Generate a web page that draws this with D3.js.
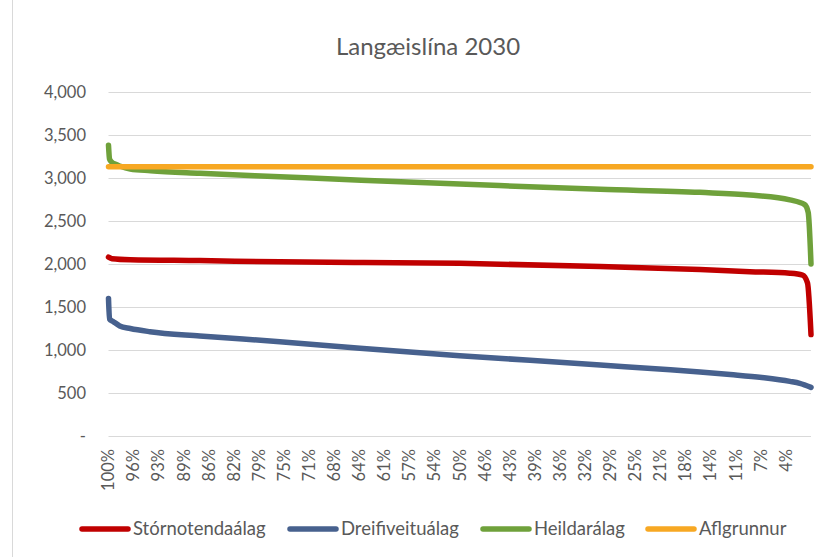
<!doctype html>
<html lang="is">
<head>
<meta charset="utf-8">
<title>Langæislína 2030</title>
<style>
  html, body { margin: 0; padding: 0; background: #fff; }
  svg { display: block; font-family: Lato, "Open Sans", sans-serif; }
  .grid line { stroke: #d9d9d9; stroke-width: 1; }
  .lbl { fill: #595959; }
</style>
</head>
<body>
<svg width="830" height="557"></svg>
<script src="https://cdn.jsdelivr.net/npm/d3@7"></script>
<script>
// share of hours (%) and load (MW)
var storPoints = [[100, 2080], [99.5, 2062], [96.9, 2050], [87, 2040], [75.6, 2025], [64, 2018],
  [50, 2008], [30, 1972], [15.8, 1935], [8.7, 1911], [3, 1892], [1.2, 1870], [0.5, 1780], [0, 1180]];
var dreifPoints = [[100, 1600], [99.85, 1360], [99.4, 1335], [98.4, 1280], [96.9, 1250], [94.1, 1213],
  [87, 1163], [75.6, 1097], [64.2, 1020], [50, 934], [40, 880], [30, 825], [20, 770], [15.8, 745],
  [11.5, 715], [7, 680], [3, 635], [1.6, 612], [0, 565]];
var heildPoints = [[100, 3380], [99.85, 3220], [99.6, 3190], [99, 3160], [98.4, 3140], [96.9, 3105],
  [94, 3085], [87, 3055], [75.6, 3015], [64, 2975], [50, 2930], [30, 2868], [15.8, 2833], [8.7, 2802],
  [3, 2745], [0.9, 2690], [0.4, 2600], [0, 2000]];
var aflPoints = [[100, 3130], [0, 3130]];

var seriesNames = ["Stórnotendaálag", "Dreifiveituálag", "Heildarálag", "Aflgrunnur"];
var seriesColors = ["#c00000", "#47618e", "#6fa13b", "#f7a823"];
var yTicks = [0, 500, 1000, 1500, 2000, 2500, 3000, 3500, 4000];
var xTickLabels = ["100%", "96%", "93%", "89%", "86%", "82%", "79%", "75%", "71%", "68%", "64%",
  "61%", "57%", "54%", "50%", "46%", "43%", "39%", "36%", "32%", "29%", "25%", "21%", "18%",
  "14%", "11%", "7%", "4%"];

var svg = d3.select("svg");
var plotLeft = 108.5, plotRight = 811, plotTop = 92, plotBottom = 436;

var x = d3.scaleLinear().domain([100, 0]).range([plotLeft, plotRight]);
var y = d3.scaleLinear().domain([0, 4000]).range([plotBottom, plotTop]);

// chart border (left edge only visible)
svg.append("line")
  .attr("x1", 12.5).attr("x2", 12.5).attr("y1", 0).attr("y2", 557)
  .attr("stroke", "#d9d9d9").attr("stroke-width", 1);

// title
svg.append("text")
  .attr("class", "lbl")
  .attr("x", 428).attr("y", 55)
  .attr("text-anchor", "middle")
  .attr("font-size", 24)
  .text("Langæislína 2030");

// gridlines
svg.append("g").attr("class", "grid")
  .selectAll("line").data(yTicks).enter().append("line")
  .attr("x1", plotLeft).attr("x2", plotRight)
  .attr("y1", function(d) { return Math.round(y(d)) + 0.5; })
  .attr("y2", function(d) { return Math.round(y(d)) + 0.5; });

// y labels
svg.append("g")
  .selectAll("text").data(yTicks).enter().append("text")
  .attr("class", "lbl")
  .attr("x", 86).attr("y", function(d) { return y(d); })
  .attr("dy", "0.35em")
  .attr("text-anchor", "end")
  .attr("font-size", 16.5)
  .text(function(d) { return d === 0 ? "-" : d3.format(",")(d); });

// x labels, rotated
svg.append("g")
  .selectAll("text").data(xTickLabels).enter().append("text")
  .attr("class", "lbl")
  .attr("font-size", 16.5)
  .attr("text-anchor", "end")
  .attr("dy", "0.35em")
  .attr("transform", function(d, i) {
    return "translate(" + x(100 - i * 100 / 28) + ",449) rotate(-90)";
  })
  .text(function(d) { return d; });

// lines
var line = d3.line()
  .x(function(d) { return x(d[0]); })
  .y(function(d) { return y(d[1]); })
  .curve(d3.curveMonotoneX);

var allSeries = [storPoints, dreifPoints, heildPoints, aflPoints];
svg.append("g")
  .selectAll("path").data(allSeries).enter().append("path")
  .attr("d", line)
  .attr("fill", "none")
  .attr("stroke", function(d, i) { return seriesColors[i]; })
  .attr("stroke-width", 5.5)
  .attr("stroke-linejoin", "round")
  .attr("stroke-linecap", "round");

// legend
var legendX = [79, 287, 480, 645];
var lg = svg.append("g").selectAll("g").data(seriesNames).enter().append("g")
  .attr("transform", function(d, i) { return "translate(" + legendX[i] + ",529)"; });
lg.append("line")
  .attr("x1", 3).attr("x2", 49).attr("y1", 0).attr("y2", 0)
  .attr("stroke", function(d, i) { return seriesColors[i]; })
  .attr("stroke-width", 5.5)
  .attr("stroke-linecap", "round");
lg.append("text")
  .attr("class", "lbl")
  .attr("x", 54).attr("y", 0).attr("dy", "0.35em")
  .attr("font-size", 18.5)
  .text(function(d) { return d; });
</script>
</body>
</html>
